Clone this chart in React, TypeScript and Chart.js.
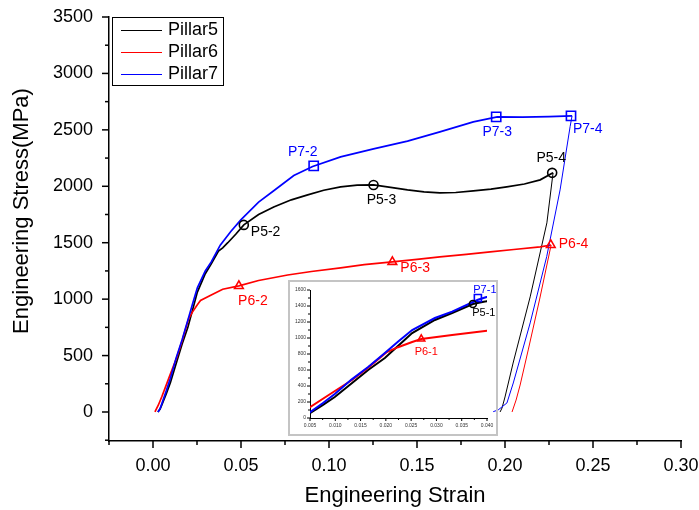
import React, { useEffect, useRef } from 'react';
import { Chart, registerables } from 'chart.js';
Chart.register(...registerables);

const FONT = "'Liberation Sans', Arial, Helvetica, sans-serif";

// ---------- data ----------
const seriesNames = ['Pillar5', 'Pillar6', 'Pillar7'];
const seriesColors = ['#000000', '#ff0000', '#0000ff'];

const p5Strain = [0.0028, 0.0040, 0.0050, 0.0075, 0.0099, 0.0132, 0.0165, 0.0198, 0.0225, 0.0252, 0.0297, 0.0331, 0.0372, 0.0396, 0.0425, 0.0470, 0.0516, 0.0600, 0.0686, 0.0786, 0.0879, 0.0970, 0.1066, 0.1160, 0.1253, 0.1350, 0.1446, 0.1540, 0.1630, 0.1720, 0.1820, 0.1920, 0.2010, 0.2110, 0.2200, 0.2273, 0.2238, 0.2143, 0.2046, 0.2000, 0.1983, 0.1972];
const p5Stress = [0, 25, 62, 160, 262, 431, 600, 750, 905, 1062, 1225, 1312, 1425, 1455, 1500, 1575, 1658, 1750, 1817, 1880, 1924, 1965, 1995, 2010, 2012, 1990, 1968, 1950, 1941, 1945, 1959, 1975, 1995, 2020, 2057, 2119, 1676, 1020, 434, 133, 35, 0];

const p6Strain = [0.0011, 0.0030, 0.0050, 0.0090, 0.0133, 0.0165, 0.0202, 0.0224, 0.0252, 0.0270, 0.0331, 0.0396, 0.0488, 0.0600, 0.0765, 0.0900, 0.1066, 0.1200, 0.1360, 0.1500, 0.1630, 0.1780, 0.1916, 0.2050, 0.2200, 0.2262, 0.2197, 0.2132, 0.2086, 0.2063, 0.2040];
const p6Stress = [0, 60, 135, 300, 475, 630, 825, 885, 950, 988, 1037, 1088, 1117, 1165, 1214, 1245, 1277, 1305, 1330, 1352, 1374, 1397, 1418, 1440, 1463, 1480, 1001, 550, 239, 106, 0];

const p7Strain = [0.0028, 0.0040, 0.0050, 0.0075, 0.0099, 0.0132, 0.0165, 0.0198, 0.0225, 0.0252, 0.0297, 0.0331, 0.0382, 0.0442, 0.0499, 0.0600, 0.0686, 0.0800, 0.0907, 0.1066, 0.1253, 0.1446, 0.1630, 0.1820, 0.1956, 0.2100, 0.2250, 0.2381, 0.2370, 0.2313, 0.2237, 0.2143, 0.2047, 0.2011, 0.1961, 0.1933];
const p7Stress = [0, 28, 72, 185, 300, 480, 637, 812, 960, 1100, 1250, 1330, 1478, 1600, 1702, 1860, 1960, 2095, 2175, 2261, 2331, 2400, 2482, 2571, 2615, 2612, 2618, 2624, 2529, 1968, 1377, 789, 257, 80, 18, 3];

const p5MarkStrain = [0.0516, 0.1253, 0.2268];
const p5MarkStress = [1658, 2012, 2119];
const p5MarkLabels = ['P5-2', 'P5-3', 'P5-4'];
const p6MarkStrain = [0.0488, 0.1360, 0.2260];
const p6MarkStress = [1117, 1330, 1480];
const p6MarkLabels = ['P6-2', 'P6-3', 'P6-4'];
const p7MarkStrain = [0.0913, 0.1950, 0.2375];
const p7MarkStress = [2181, 2615, 2624];
const p7MarkLabels = ['P7-2', 'P7-3', 'P7-4'];

const p5InsetStrain = [0.0372];
const p5InsetStress = [1425];
const p5InsetLabels = ['P5-1'];
const p6InsetStrain = [0.0270];
const p6InsetStress = [988];
const p6InsetLabels = ['P6-1'];
const p7InsetStrain = [0.0382];
const p7InsetStress = [1500];
const p7InsetLabels = ['P7-1'];

const xTickValues = [0, 0.05, 0.10, 0.15, 0.20, 0.25, 0.30];
const yTickValues = [0, 500, 1000, 1500, 2000, 2500, 3000, 3500];
const insetXTickValues = [0.005, 0.010, 0.015, 0.020, 0.025, 0.030, 0.035, 0.040];
const insetYTickValues = [0, 200, 400, 600, 800, 1000, 1200, 1400, 1600];

const xTitle = 'Engineering Strain';
const yTitle = 'Engineering Stress(MPa)';

// ---------- styles ----------
const labelOffsets: Record<string, [number, number, CanvasTextAlign]> = {
  'P5-2': [7, 7, 'left'],
  'P5-3': [8, 15, 'center'],
  'P5-4': [-1, -15, 'center'],
  'P6-2': [14, 15, 'center'],
  'P6-3': [8, 6, 'left'],
  'P6-4': [8, -1, 'left'],
  'P7-2': [-11, -14, 'center'],
  'P7-3': [1, 15, 'center'],
  'P7-4': [2, 13, 'left'],
  'P7-1': [7, -8, 'center'],
  'P5-1': [11, 9, 'center'],
  'P6-1': [5, 13, 'center'],
};

const pts = (xs: number[], ys: number[]) => xs.map((x, i) => ({ x, y: ys[i] }));

function tickMarks(id: string, cfg: any) {
  return {
    id,
    afterDraw(chart: any) {
      const ctx = chart.ctx;
      const a = chart.chartArea;
      const xs = chart.scales.x;
      const ys = chart.scales.y;
      ctx.save();
      ctx.strokeStyle = '#000';
      ctx.lineWidth = cfg.width;
      const rx = Math.round(cfg.xMajor / cfg.xMinor);
      for (let k = Math.ceil(xs.min / cfg.xMinor - 1e-6); k * cfg.xMinor <= xs.max + 1e-9; k++) {
        const px = xs.getPixelForValue(k * cfg.xMinor);
        const len = k % rx === 0 ? cfg.major : cfg.minor;
        ctx.beginPath();
        ctx.moveTo(px, a.bottom);
        ctx.lineTo(px, a.bottom + len);
        ctx.stroke();
      }
      const ry = Math.round(cfg.yMajor / cfg.yMinor);
      for (let k = Math.ceil(ys.min / cfg.yMinor - 1e-6); k * cfg.yMinor <= ys.max + 1e-9; k++) {
        const py = ys.getPixelForValue(k * cfg.yMinor);
        const len = k % ry === 0 ? cfg.major : cfg.minor;
        ctx.beginPath();
        ctx.moveTo(a.left, py);
        ctx.lineTo(a.left - len, py);
        ctx.stroke();
      }
      ctx.restore();
    },
  };
}

function pointLabelPlugin(id: string, size: number) {
  return {
    id,
    afterDatasetsDraw(chart: any) {
      const ctx = chart.ctx;
      ctx.save();
      ctx.font = `${size}px ${FONT}`;
      ctx.textBaseline = 'middle';
      chart.data.datasets.forEach((ds: any, i: number) => {
        if (!ds.pointLabels) return;
        const meta = chart.getDatasetMeta(i);
        meta.data.forEach((el: any, j: number) => {
          const txt = ds.pointLabels[j];
          const off = labelOffsets[txt] || [6, 0, 'left'];
          ctx.fillStyle = ds.borderColor;
          ctx.textAlign = off[2];
          ctx.fillText(txt, el.x + off[0], el.y + off[1]);
        });
      });
      ctx.restore();
    },
  };
}

const mainDecor = {
  id: 'mainDecor',
  afterDraw(chart: any) {
    const ctx = chart.ctx;
    ctx.save();
    ctx.translate(22, 211);
    ctx.rotate(-Math.PI / 2);
    ctx.font = `22px ${FONT}`;
    ctx.fillStyle = '#000';
    ctx.textAlign = 'center';
    ctx.textBaseline = 'middle';
    ctx.fillText(yTitle, 0, 0);
    ctx.restore();
    ctx.save();
    ctx.strokeStyle = '#000';
    ctx.lineWidth = 1;
    ctx.strokeRect(112.5, 17.5, 111, 68);
    ctx.font = `18px ${FONT}`;
    ctx.textAlign = 'left';
    ctx.textBaseline = 'middle';
    seriesNames.forEach((name, i) => {
      const y = 30.5 + i * 22;
      ctx.strokeStyle = seriesColors[i];
      ctx.beginPath();
      ctx.moveTo(121, y);
      ctx.lineTo(162, y);
      ctx.stroke();
      ctx.fillStyle = '#000';
      ctx.fillText(name, 168, y);
    });
    ctx.restore();
  },
};

const lineStrains = [p5Strain, p6Strain, p7Strain];
const lineStresses = [p5Stress, p6Stress, p7Stress];

function lineDatasets(width: number) {
  return seriesNames.map((name, i) => ({
    type: 'scatter' as const,
    label: name,
    data: pts(lineStrains[i], lineStresses[i]),
    showLine: true,
    borderColor: seriesColors[i],
    backgroundColor: seriesColors[i],
    borderWidth: width,
    pointRadius: 0,
    tension: 0,
    order: 3 - i,
    segment: {
      borderWidth: (c: any) => (c.p1.parsed.x < c.p0.parsed.x ? 1 : width),
    },
  }));
}

const markerStyles = ['circle', 'triangle', 'rect'];

function markerDatasets(xs: number[][], ys: number[][], labels: string[][], radii: number[]) {
  return seriesNames.map((name, i) => ({
    type: 'scatter' as const,
    label: name + ' points',
    data: pts(xs[i], ys[i]),
    pointLabels: labels[i],
    showLine: false,
    pointStyle: markerStyles[i],
    pointRadius: radii[i],
    borderColor: seriesColors[i],
    backgroundColor: 'rgba(255,255,255,0)',
    pointBorderWidth: 1.6,
    order: 0,
  }));
}

const fitX = (h: number) => (s: any) => {
  s.height = h;
  s.paddingLeft = 0;
  s.paddingRight = 0;
};
const fitY = (w: number) => (s: any) => {
  s.width = w;
  s.paddingTop = 0;
  s.paddingBottom = 0;
};

export default function App() {
  const mainRef = useRef<HTMLCanvasElement>(null);
  const insetRef = useRef<HTMLCanvasElement>(null);

  useEffect(() => {
    const main = new Chart(mainRef.current as HTMLCanvasElement, {
      type: 'scatter',
      data: {
        datasets: [
          ...lineDatasets(1.7),
          ...markerDatasets(
            [p5MarkStrain, p6MarkStrain, p7MarkStrain],
            [p5MarkStress, p6MarkStress, p7MarkStress],
            [p5MarkLabels, p6MarkLabels, p7MarkLabels],
            [4.5, 5, 6.5]
          ),
        ] as any,
      },
      options: {
        responsive: false,
        animation: false,
        events: [],
        layout: { padding: { left: 0, top: 17, right: 18, bottom: 0 } },
        plugins: { legend: { display: false }, tooltip: { enabled: false } },
        scales: {
          x: {
            type: 'linear',
            min: -0.025,
            max: 0.3,
            afterFit: fitX(69),
            afterBuildTicks: (s: any) => { s.ticks = xTickValues.map((v) => ({ value: v })); },
            grid: { display: false, drawTicks: false },
            border: { display: true, color: '#000', width: 1.5 },
            ticks: {
              padding: 14,
              color: '#000',
              autoSkip: false,
              maxRotation: 0,
              font: { family: FONT, size: 18 },
              callback: (v: any) => Number(v).toFixed(2),
            },
            title: {
              display: true,
              text: xTitle,
              color: '#000',
              font: { family: FONT, size: 22 },
              padding: { top: 0, bottom: 1 },
            },
          },
          y: {
            type: 'linear',
            min: -257,
            max: 3500,
            afterFit: fitY(109),
            afterBuildTicks: (s: any) => { s.ticks = yTickValues.map((v) => ({ value: v })); },
            grid: { display: false, drawTicks: false },
            border: { display: true, color: '#000', width: 1.5 },
            ticks: {
              padding: 16,
              color: '#000',
              autoSkip: false,
              font: { family: FONT, size: 18 },
              callback: (v: any) => String(v),
            },
          },
        },
      } as any,
      plugins: [
        tickMarks('mainTicks', { xMajor: 0.05, xMinor: 0.025, yMajor: 500, yMinor: 250, major: 7, minor: 4, width: 1.5 }),
        pointLabelPlugin('mainLabels', 14),
        mainDecor,
      ],
    });

    const inset = new Chart(insetRef.current as HTMLCanvasElement, {
      type: 'scatter',
      data: {
        datasets: [
          ...lineDatasets(2),
          ...markerDatasets(
            [p5InsetStrain, p6InsetStrain, p7InsetStrain],
            [p5InsetStress, p6InsetStress, p7InsetStress],
            [p5InsetLabels, p6InsetLabels, p7InsetLabels],
            [3.5, 4, 5]
          ),
        ] as any,
      },
      options: {
        responsive: false,
        animation: false,
        events: [],
        layout: { padding: { left: 0, top: 8, right: 9, bottom: 0 } },
        plugins: { legend: { display: false }, tooltip: { enabled: false } },
        scales: {
          x: {
            type: 'linear',
            min: 0.005,
            max: 0.04,
            afterFit: fitX(16),
            afterBuildTicks: (s: any) => { s.ticks = insetXTickValues.map((v) => ({ value: v })); },
            grid: { display: false, drawTicks: false },
            border: { display: true, color: '#000', width: 1 },
            ticks: {
              padding: 5,
              color: '#333',
              autoSkip: false,
              maxRotation: 0,
              font: { family: FONT, size: 5 },
              callback: (v: any) => Number(v).toFixed(3),
            },
          },
          y: {
            type: 'linear',
            min: 0,
            max: 1600,
            afterFit: fitY(20),
            afterBuildTicks: (s: any) => { s.ticks = insetYTickValues.map((v) => ({ value: v })); },
            grid: { display: false, drawTicks: false },
            border: { display: true, color: '#000', width: 1 },
            ticks: {
              padding: 4,
              color: '#333',
              autoSkip: false,
              font: { family: FONT, size: 5 },
              callback: (v: any) => String(v),
            },
          },
        },
      } as any,
      plugins: [
        tickMarks('insetTicks', { xMajor: 0.005, xMinor: 0.0025, yMajor: 200, yMinor: 100, major: 3, minor: 2, width: 1 }),
        pointLabelPlugin('insetLabels', 11),
      ],
    });

    return () => {
      main.destroy();
      inset.destroy();
    };
  }, []);

  return (
    <div style={{ position: 'absolute', left: 0, top: 0, width: 699, height: 510, background: '#fff' }}>
      <canvas ref={mainRef} width={699} height={510} style={{ position: 'absolute', left: 0, top: 0 }} />
      <div
        style={{
          position: 'absolute',
          left: 288,
          top: 280,
          width: 210,
          height: 156,
          border: '2px solid #c4c4c4',
          boxSizing: 'border-box',
        }}
      >
        <canvas ref={insetRef} width={206} height={152} style={{ display: 'block' }} />
      </div>
    </div>
  );
}
